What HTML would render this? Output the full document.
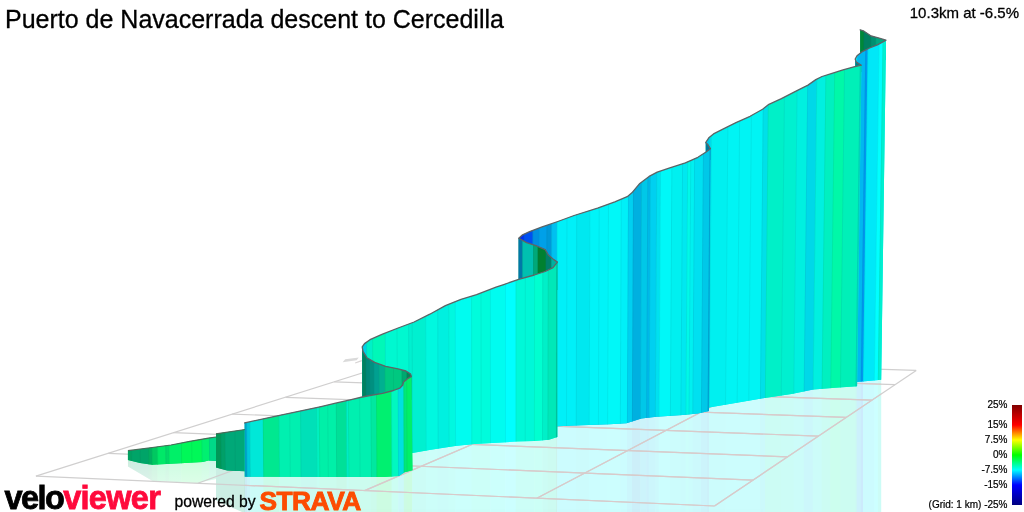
<!DOCTYPE html>
<html><head><meta charset="utf-8"><title>Puerto de Navacerrada descent to Cercedilla</title>
<style>
html,body{margin:0;padding:0;background:#fff;}
body{width:1024px;height:512px;position:relative;overflow:hidden;font-family:"Liberation Sans",Arial,sans-serif;color:#000;}
.t{position:absolute;white-space:nowrap;line-height:1;-webkit-text-stroke:0.3px #000;}
#title{left:5px;top:6.6px;font-size:25px;}
#stat{right:5px;top:5.2px;font-size:15px;}
.lg{-webkit-text-stroke:0.2px #000;position:absolute;right:16.5px;font-size:10px;line-height:10px;white-space:nowrap;text-align:right;}
#bar{position:absolute;left:1012px;top:405px;width:10px;height:100px;background:linear-gradient(to bottom,#800000 0%,#ff0000 20%,#ffff00 35%,#00ff00 50%,#00ffff 65%,#0000ff 80%,#000080 100%);}
#velo{position:absolute;left:4.5px;top:481.5px;font-size:32.5px;font-weight:bold;letter-spacing:-1.6px;line-height:1;white-space:nowrap;-webkit-text-stroke:0.8px currentColor;}
#velo span{color:#ff0a3c;letter-spacing:-0.7px;}
#pow{left:174.5px;top:493.5px;font-size:15.7px;}
#strava{position:absolute;left:259.5px;top:488px;font-size:26.3px;font-weight:bold;color:#fc4c02;line-height:1;letter-spacing:-0.5px;-webkit-text-stroke:0.9px #fc4c02;white-space:nowrap;transform-origin:0 0;}
</style></head><body>
<svg width="1024" height="512" viewBox="0 0 1024 512" style="position:absolute;left:0;top:0">
<clipPath id="crefl"><polygon points="244.6,476.8 384.0,476.9 399.0,476.0 404.6,472.2 412.5,470.3 412.5,452.9 430.9,449.7 455.2,445.9 474.0,444.0 496.5,442.8 515.2,441.6 534.0,440.9 549.0,439.8 557.4,437.1 557.4,426.2 581.5,425.2 609.6,424.2 626.5,423.3 632.1,421.4 641.5,418.6 656.5,416.8 682.8,414.9 697.8,413.4 709.0,411.1 709.0,407.4 736.8,402.7 763.0,398.3 791.5,394.0 813.4,389.6 835.2,387.8 857.1,386.3 857.1,381.9 881.2,379.8 881.2,512.0 244.6,512.0"/></clipPath>
<g clip-path="url(#crefl)" opacity="0.2">
<polygon points="244.6,380.0 247.6,380.0 247.6,512.0 244.6,512.0" fill="#00a0c8"/>
<polygon points="247.0,380.0 250.8,380.0 250.8,512.0 247.0,512.0" fill="#00c8dc"/>
<polygon points="250.2,380.0 264.0,380.0 264.0,512.0 250.2,512.0" fill="#00e8d8"/>
<polygon points="263.4,380.0 279.8,380.0 279.8,512.0 263.4,512.0" fill="#00e890"/>
<polygon points="279.2,380.0 301.4,380.0 301.4,512.0 279.2,512.0" fill="#00f0b0"/>
<polygon points="300.8,380.0 317.3,380.0 317.3,512.0 300.8,512.0" fill="#00e0b8"/>
<polygon points="316.7,380.0 320.1,380.0 320.1,512.0 316.7,512.0" fill="#00f0c0"/>
<polygon points="319.5,380.0 337.0,380.0 337.0,512.0 319.5,512.0" fill="#00f0a8"/>
<polygon points="336.4,380.0 347.3,380.0 347.3,512.0 336.4,512.0" fill="#00e098"/>
<polygon points="346.7,380.0 349.2,380.0 349.2,512.0 346.7,512.0" fill="#00f0c8"/>
<polygon points="348.6,380.0 371.6,380.0 371.6,512.0 348.6,512.0" fill="#00f0b0"/>
<polygon points="371.0,380.0 377.2,380.0 377.2,512.0 371.0,512.0" fill="#00e8a0"/>
<polygon points="376.6,380.0 392.2,380.0 392.2,512.0 376.6,512.0" fill="#00f070"/>
<polygon points="391.6,380.0 398.8,380.0 398.8,512.0 391.6,512.0" fill="#00f8c0"/>
<polygon points="398.2,380.0 404.4,380.0 404.4,512.0 398.2,512.0" fill="#00e0e0"/>
<polygon points="403.8,380.0 407.4,380.0 407.4,512.0 403.8,512.0" fill="#00e878"/>
<polygon points="406.8,380.0 412.8,380.0 412.8,512.0 406.8,512.0" fill="#00f068"/>
<polygon points="412.2,380.0 412.9,380.0 412.9,512.0 412.2,512.0" fill="#00f0d0"/>
<polygon points="412.3,380.0 426.5,380.0 426.5,512.0 412.3,512.0" fill="#00f0d0"/>
<polygon points="425.9,380.0 438.4,380.0 438.4,512.0 425.9,512.0" fill="#00f8e0"/>
<polygon points="437.8,380.0 449.4,380.0 449.4,512.0 437.8,512.0" fill="#00f0e0"/>
<polygon points="448.8,380.0 455.9,380.0 455.9,512.0 448.8,512.0" fill="#00f8e0"/>
<polygon points="455.3,380.0 472.1,380.0 472.1,512.0 455.3,512.0" fill="#00fcf0"/>
<polygon points="471.5,380.0 490.8,380.0 490.8,512.0 471.5,512.0" fill="#00fcdc"/>
<polygon points="490.2,380.0 505.8,380.0 505.8,512.0 490.2,512.0" fill="#00fcf0"/>
<polygon points="505.2,380.0 516.3,380.0 516.3,512.0 505.2,512.0" fill="#00ffff"/>
<polygon points="515.7,380.0 534.8,380.0 534.8,512.0 515.7,512.0" fill="#00f8d8"/>
<polygon points="534.2,380.0 542.8,380.0 542.8,512.0 534.2,512.0" fill="#00ffd0"/>
<polygon points="542.2,380.0 548.2,380.0 548.2,512.0 542.2,512.0" fill="#00f0c8"/>
<polygon points="547.6,380.0 556.6,380.0 556.6,512.0 547.6,512.0" fill="#00e8b8"/>
<polygon points="556.0,380.0 557.7,380.0 557.7,512.0 556.0,512.0" fill="#00c8a0"/>
<polygon points="557.1,380.0 576.5,380.0 576.5,512.0 557.1,512.0" fill="#00f0f8"/>
<polygon points="575.9,380.0 589.5,380.0 589.5,512.0 575.9,512.0" fill="#00e8f0"/>
<polygon points="588.9,380.0 608.0,380.0 608.0,512.0 588.9,512.0" fill="#00f4f8"/>
<polygon points="607.4,380.0 620.7,380.0 620.7,512.0 607.4,512.0" fill="#00f8f8"/>
<polygon points="620.1,380.0 627.6,380.0 627.6,512.0 620.1,512.0" fill="#00f0f8"/>
<polygon points="627.0,380.0 632.6,380.0 632.6,512.0 627.0,512.0" fill="#00d0f0"/>
<polygon points="632.0,380.0 640.7,380.0 640.7,512.0 632.0,512.0" fill="#00b0e0"/>
<polygon points="640.1,380.0 646.8,380.0 646.8,512.0 640.1,512.0" fill="#00c8e8"/>
<polygon points="646.2,380.0 649.4,380.0 649.4,512.0 646.2,512.0" fill="#00b8e8"/>
<polygon points="648.8,380.0 655.7,380.0 655.7,512.0 648.8,512.0" fill="#00d0f0"/>
<polygon points="655.1,380.0 659.4,380.0 659.4,512.0 655.1,512.0" fill="#00e0f0"/>
<polygon points="658.8,380.0 670.6,380.0 670.6,512.0 658.8,512.0" fill="#00f8f8"/>
<polygon points="670.0,380.0 681.2,380.0 681.2,512.0 670.0,512.0" fill="#00f0f0"/>
<polygon points="680.6,380.0 686.2,380.0 686.2,512.0 680.6,512.0" fill="#00e8f0"/>
<polygon points="685.6,380.0 689.3,380.0 689.3,512.0 685.6,512.0" fill="#00f8e8"/>
<polygon points="688.7,380.0 693.1,380.0 693.1,512.0 688.7,512.0" fill="#00f0f0"/>
<polygon points="692.5,380.0 701.6,380.0 701.6,512.0 692.5,512.0" fill="#00e0f0"/>
<polygon points="701.0,380.0 708.2,380.0 708.2,512.0 701.0,512.0" fill="#00c8e8"/>
<polygon points="707.6,380.0 709.3,380.0 709.3,512.0 707.6,512.0" fill="#00a8d8"/>
<polygon points="708.7,380.0 709.6,380.0 709.6,512.0 708.7,512.0" fill="#00dcf0"/>
<polygon points="709.0,380.0 725.9,380.0 725.9,512.0 709.0,512.0" fill="#00f0f0"/>
<polygon points="725.3,380.0 760.7,380.0 760.7,512.0 725.3,512.0" fill="#00f4f4"/>
<polygon points="760.1,380.0 765.7,380.0 765.7,512.0 760.1,512.0" fill="#00e0e8"/>
<polygon points="765.1,380.0 781.6,380.0 781.6,512.0 765.1,512.0" fill="#00f0c8"/>
<polygon points="781.0,380.0 794.1,380.0 794.1,512.0 781.0,512.0" fill="#00f0d0"/>
<polygon points="793.5,380.0 804.4,380.0 804.4,512.0 793.5,512.0" fill="#00f0e0"/>
<polygon points="803.8,380.0 813.4,380.0 813.4,512.0 803.8,512.0" fill="#00d8e8"/>
<polygon points="812.8,380.0 822.3,380.0 822.3,512.0 812.8,512.0" fill="#00f0e0"/>
<polygon points="821.7,380.0 830.9,380.0 830.9,512.0 821.7,512.0" fill="#00f0c0"/>
<polygon points="830.3,380.0 840.7,380.0 840.7,512.0 830.3,512.0" fill="#00f8a8"/>
<polygon points="840.1,380.0 856.1,380.0 856.1,512.0 840.1,512.0" fill="#00f0b8"/>
<polygon points="855.5,380.0 857.4,380.0 857.4,512.0 855.5,512.0" fill="#00d8c0"/>
<polygon points="856.8,380.0 861.5,380.0 861.5,512.0 856.8,512.0" fill="#00b8f0"/>
<polygon points="860.9,380.0 863.6,380.0 863.6,512.0 860.9,512.0" fill="#0098f0"/>
<polygon points="863.0,380.0 874.7,380.0 874.7,512.0 863.0,512.0" fill="#00e8f8"/>
<polygon points="874.1,380.0 878.5,380.0 878.5,512.0 874.1,512.0" fill="#00ffff"/>
<polygon points="877.9,380.0 882.3,380.0 882.3,512.0 877.9,512.0" fill="#00f0d0"/>
</g>
<polygon points="216.0,467.6 227.2,470.4 245.0,471.3 245.0,512.0 242.0,512.0 216.0,500.4" fill="#00a878" opacity="0.2"/>
<clipPath id="cra"><polygon points="127.9,460.0 140.0,463.0 152.2,464.8 180.4,463.2 202.9,461.9 208.5,460.6 216.0,461.0 216.0,479.0 197.0,483.0 152.2,480.7 127.9,466.6"/></clipPath>
<linearGradient id="gra" x1="0" y1="0" x2="0" y2="1"><stop offset="0" stop-color="#fff" stop-opacity="0"/><stop offset="1" stop-color="#fff" stop-opacity="0.35"/></linearGradient>
<g clip-path="url(#cra)"><g opacity="0.2">
<rect x="127.6" y="455" width="4.3" height="32" fill="#00a060"/>
<rect x="131.3" y="455" width="17.7" height="32" fill="#00a468"/>
<rect x="148.4" y="455" width="4.0" height="32" fill="#00b060"/>
<rect x="151.8" y="455" width="6.1" height="32" fill="#00c860"/>
<rect x="157.3" y="455" width="8.8" height="32" fill="#00e868"/>
<rect x="165.5" y="455" width="4.0" height="32" fill="#00d868"/>
<rect x="168.9" y="455" width="12.9" height="32" fill="#00f068"/>
<rect x="181.2" y="455" width="21.1" height="32" fill="#00f858"/>
<rect x="201.7" y="455" width="8.1" height="32" fill="#00f070"/>
<rect x="209.2" y="455" width="7.1" height="32" fill="#00d888"/>
</g><rect x="127" y="458" width="90" height="27" fill="url(#gra)"/>
</g>
<g stroke="#d0cfcf"><g id="grid" stroke-width="1.2" fill="none">
<line x1="35.9" y1="476.1" x2="420.0" y2="354.8"/>
<line x1="197.8" y1="483.2" x2="540.0" y2="358.6"/>
<line x1="364.6" y1="490.6" x2="662.6" y2="362.4"/>
<line x1="536.8" y1="498.2" x2="788.0" y2="366.4"/>
<line x1="714.5" y1="506.0" x2="916.2" y2="370.4"/>
<line x1="35.9" y1="476.1" x2="714.5" y2="506.0"/>
<line x1="108.2" y1="453.3" x2="753.0" y2="480.1"/>
<line x1="173.3" y1="432.7" x2="787.5" y2="456.9"/>
<line x1="232.1" y1="414.1" x2="818.4" y2="436.1"/>
<line x1="285.5" y1="397.3" x2="846.4" y2="417.3"/>
<line x1="334.3" y1="381.9" x2="871.8" y2="400.2"/>
<line x1="378.9" y1="367.8" x2="895.0" y2="384.7"/>
<line x1="420.0" y1="354.8" x2="916.2" y2="370.4"/>
</g></g>
<g stroke="#d9caca" clip-path="url(#crefl)"><g stroke-width="1.2" fill="none">
<line x1="35.9" y1="476.1" x2="420.0" y2="354.8"/>
<line x1="197.8" y1="483.2" x2="540.0" y2="358.6"/>
<line x1="364.6" y1="490.6" x2="662.6" y2="362.4"/>
<line x1="536.8" y1="498.2" x2="788.0" y2="366.4"/>
<line x1="714.5" y1="506.0" x2="916.2" y2="370.4"/>
<line x1="35.9" y1="476.1" x2="714.5" y2="506.0"/>
<line x1="108.2" y1="453.3" x2="753.0" y2="480.1"/>
<line x1="173.3" y1="432.7" x2="787.5" y2="456.9"/>
<line x1="232.1" y1="414.1" x2="818.4" y2="436.1"/>
<line x1="285.5" y1="397.3" x2="846.4" y2="417.3"/>
<line x1="334.3" y1="381.9" x2="871.8" y2="400.2"/>
<line x1="378.9" y1="367.8" x2="895.0" y2="384.7"/>
<line x1="420.0" y1="354.8" x2="916.2" y2="370.4"/>
</g></g>
<polygon points="342.6,362.3 345.2,359.2 358.8,357.4 356.6,360.3" fill="#dadada"/><line x1="355.2" y1="363" x2="361.8" y2="360.6" stroke="#d8d4d4" stroke-width="1.3"/>
<clipPath id="cb5"><polygon points="860.2,29.8 863.3,30.8 871.1,36.0 877.4,37.6 886.0,40.2 886.0,60.0 860.2,60.0"/></clipPath>
<polygon points="860.2,29.8 863.3,30.8 871.1,36.0 877.4,37.6 886.0,40.2 886.0,60.0 860.2,60.0" fill="#009070"/>
<g clip-path="url(#cb5)">
<polygon points="860.0,27.0 864.4,27.0 864.0,62.0 859.6,62.0" fill="#008838"/>
<polygon points="863.8,27.0 871.5,27.0 871.0,62.0 863.4,62.0" fill="#008060"/>
<polygon points="870.9,27.0 876.5,27.0 876.0,62.0 870.4,62.0" fill="#009070"/>
<polygon points="875.9,27.0 887.5,27.0 887.0,62.0 875.4,62.0" fill="#00a880"/>
<path d="M864.1,27L863.7,62 M871.2,27L870.7,62 M876.2,27L875.7,62" stroke="#004848" stroke-opacity="0.08" stroke-width="1" fill="none"/>
</g>
<clipPath id="cs5"><polygon points="855.2,70.0 855.2,59.0 857.0,55.8 861.8,51.9 869.6,48.0 877.4,44.9 886.0,40.2 881.2,379.8 857.1,381.9 855.2,382.0"/></clipPath>
<polygon points="855.2,70.0 855.2,59.0 857.0,55.8 861.8,51.9 869.6,48.0 877.4,44.9 886.0,40.2 881.2,379.8 857.1,381.9 855.2,382.0" fill="#00e8f8"/>
<g clip-path="url(#cs5)">
<polygon points="857.5,38.0 866.1,38.0 861.4,384.0 852.8,384.0" fill="#00b8f0"/>
<polygon points="865.5,38.0 868.3,38.0 863.6,384.0 860.8,384.0" fill="#0098f0"/>
<polygon points="867.7,38.0 879.5,38.0 874.6,384.0 863.0,384.0" fill="#00e8f8"/>
<polygon points="878.9,38.0 883.3,38.0 878.4,384.0 874.0,384.0" fill="#00ffff"/>
<polygon points="882.7,38.0 890.1,38.0 885.1,384.0 877.8,384.0" fill="#00f0d0"/>
<path d="M865.8,38L861.1,384 M868.0,38L863.3,384 M879.2,38L874.3,384 M883.0,38L878.1,384" stroke="#004848" stroke-opacity="0.08" stroke-width="1" fill="none"/>
</g>
<polygon points="861.4,65.2 856.3,62.1 855.2,59.0 855.2,72.0 861.4,72.0" fill="#008088"/>
<clipPath id="cs4"><polygon points="705.7,160.0 705.7,142.5 708.8,137.8 713.5,133.9 724.4,128.4 736.0,122.6 750.1,116.3 762.6,109.3 768.9,104.3 781.4,98.7 797.0,90.6 808.0,85.1 815.8,79.6 822.0,76.5 832.0,73.4 843.0,69.9 853.9,66.8 861.4,65.2 857.1,386.3 835.2,387.8 813.4,389.6 791.5,394.0 763.0,398.3 736.8,402.7 709.0,407.4 705.7,408.0"/></clipPath>
<polygon points="705.7,160.0 705.7,142.5 708.8,137.8 713.5,133.9 724.4,128.4 736.0,122.6 750.1,116.3 762.6,109.3 768.9,104.3 781.4,98.7 797.0,90.6 808.0,85.1 815.8,79.6 822.0,76.5 832.0,73.4 843.0,69.9 853.9,66.8 861.4,65.2 857.1,386.3 835.2,387.8 813.4,389.6 791.5,394.0 763.0,398.3 736.8,402.7 709.0,407.4 705.7,408.0" fill="#00f0e0"/>
<g clip-path="url(#cs4)">
<polygon points="706.7,63.0 710.1,63.0 707.4,410.0 704.0,410.0" fill="#00c8f0"/>
<polygon points="709.5,63.0 712.2,63.0 709.5,410.0 706.8,410.0" fill="#00dcf0"/>
<polygon points="711.6,63.0 728.7,63.0 725.8,410.0 708.9,410.0" fill="#00f0f0"/>
<polygon points="728.1,63.0 763.9,63.0 760.6,410.0 725.2,410.0" fill="#00f4f4"/>
<polygon points="763.3,63.0 769.0,63.0 765.5,410.0 760.0,410.0" fill="#00e0e8"/>
<polygon points="768.4,63.0 785.1,63.0 781.4,410.0 764.9,410.0" fill="#00f0c8"/>
<polygon points="784.5,63.0 797.7,63.0 793.9,410.0 780.8,410.0" fill="#00f0d0"/>
<polygon points="797.1,63.0 808.2,63.0 804.2,410.0 793.3,410.0" fill="#00f0e0"/>
<polygon points="807.6,63.0 817.3,63.0 813.2,410.0 803.6,410.0" fill="#00d8e8"/>
<polygon points="816.7,63.0 826.3,63.0 822.1,410.0 812.6,410.0" fill="#00f0e0"/>
<polygon points="825.7,63.0 835.1,63.0 830.8,410.0 821.5,410.0" fill="#00f0c0"/>
<polygon points="834.5,63.0 844.9,63.0 840.5,410.0 830.2,410.0" fill="#00f8a8"/>
<polygon points="844.3,63.0 860.5,63.0 855.9,410.0 839.9,410.0" fill="#00f0b8"/>
<polygon points="859.9,63.0 864.6,63.0 859.9,410.0 855.3,410.0" fill="#00d8c0"/>
<path d="M709.8,63L707.1,410 M711.9,63L709.2,410 M728.4,63L725.5,410 M740.1,63L737.1,410 M751.9,63L748.7,410 M763.6,63L760.3,410 M768.7,63L765.2,410 M784.8,63L781.1,410 M797.4,63L793.6,410 M807.9,63L803.9,410 M817.0,63L812.9,410 M826.0,63L821.8,410 M834.8,63L830.5,410 M844.6,63L840.2,410 M860.2,63L855.6,410" stroke="#004848" stroke-opacity="0.08" stroke-width="1" fill="none"/>
</g>
<polygon points="710.4,148.7 708.0,144.8 705.7,142.5 705.7,160.0 710.4,160.0" fill="#007898"/>
<clipPath id="cs3"><polygon points="518.7,290.0 518.7,238.3 522.6,234.8 529.6,231.6 542.1,226.9 557.8,221.5 574.1,215.5 597.6,208.1 614.8,201.9 627.2,196.7 631.9,192.8 639.8,183.4 649.1,176.4 657.2,172.2 669.8,167.9 685.4,162.8 697.9,157.3 705.7,152.3 710.4,148.7 709.0,411.1 697.8,413.4 682.8,414.9 656.5,416.8 641.5,418.6 632.1,421.4 626.5,423.3 609.6,424.2 581.5,425.2 557.4,426.2 518.7,427.0"/></clipPath>
<polygon points="518.7,290.0 518.7,238.3 522.6,234.8 529.6,231.6 542.1,226.9 557.8,221.5 574.1,215.5 597.6,208.1 614.8,201.9 627.2,196.7 631.9,192.8 639.8,183.4 649.1,176.4 657.2,172.2 669.8,167.9 685.4,162.8 697.9,157.3 705.7,152.3 710.4,148.7 709.0,411.1 697.8,413.4 682.8,414.9 656.5,416.8 641.5,418.6 632.1,421.4 626.5,423.3 609.6,424.2 581.5,425.2 557.4,426.2 518.7,427.0" fill="#00b0e0"/>
<g clip-path="url(#cs3)">
<polygon points="518.4,146.0 524.4,146.0 524.3,429.0 518.4,429.0" fill="#0030f0"/>
<polygon points="523.8,146.0 533.2,146.0 533.0,429.0 523.7,429.0" fill="#0050f0"/>
<polygon points="532.6,146.0 539.5,146.0 539.2,429.0 532.4,429.0" fill="#0090e0"/>
<polygon points="538.9,146.0 547.3,146.0 547.0,429.0 538.6,429.0" fill="#00a0e8"/>
<polygon points="546.7,146.0 552.1,146.0 551.6,429.0 546.4,429.0" fill="#0098d8"/>
<polygon points="551.5,146.0 557.6,146.0 557.1,429.0 551.0,429.0" fill="#00c0f0"/>
<polygon points="557.0,146.0 577.2,146.0 576.5,429.0 556.5,429.0" fill="#00f0f8"/>
<polygon points="576.6,146.0 590.4,146.0 589.5,429.0 575.9,429.0" fill="#00e8f0"/>
<polygon points="589.8,146.0 609.0,146.0 607.9,429.0 588.9,429.0" fill="#00f4f8"/>
<polygon points="608.4,146.0 621.8,146.0 620.6,429.0 607.3,429.0" fill="#00f8f8"/>
<polygon points="621.2,146.0 628.9,146.0 627.6,429.0 620.0,429.0" fill="#00f0f8"/>
<polygon points="628.3,146.0 633.9,146.0 632.6,429.0 627.0,429.0" fill="#00d0f0"/>
<polygon points="633.3,146.0 642.1,146.0 640.7,429.0 632.0,429.0" fill="#00b0e0"/>
<polygon points="641.5,146.0 648.3,146.0 646.8,429.0 640.1,429.0" fill="#00c8e8"/>
<polygon points="647.7,146.0 650.9,146.0 649.4,429.0 646.2,429.0" fill="#00b8e8"/>
<polygon points="650.3,146.0 657.2,146.0 655.6,429.0 648.8,429.0" fill="#00d0f0"/>
<polygon points="656.6,146.0 661.0,146.0 659.3,429.0 655.0,429.0" fill="#00e0f0"/>
<polygon points="660.4,146.0 672.3,146.0 670.6,429.0 658.7,429.0" fill="#00f8f8"/>
<polygon points="671.7,146.0 683.0,146.0 681.1,429.0 670.0,429.0" fill="#00f0f0"/>
<polygon points="682.4,146.0 688.1,146.0 686.1,429.0 680.5,429.0" fill="#00e8f0"/>
<polygon points="687.5,146.0 691.2,146.0 689.2,429.0 685.5,429.0" fill="#00f8e8"/>
<polygon points="690.6,146.0 695.0,146.0 693.0,429.0 688.6,429.0" fill="#00f0f0"/>
<polygon points="694.4,146.0 703.7,146.0 701.6,429.0 692.4,429.0" fill="#00e0f0"/>
<polygon points="703.1,146.0 710.3,146.0 708.1,429.0 701.0,429.0" fill="#00c8e8"/>
<polygon points="709.7,146.0 712.7,146.0 710.5,429.0 707.5,429.0" fill="#00a8d8"/>
<path d="M524.1,146L524.0,429 M532.9,146L532.7,429 M539.2,146L538.9,429 M547.0,146L546.7,429 M551.8,146L551.3,429 M557.3,146L556.8,429 M567.1,146L566.5,429 M576.9,146L576.2,429 M590.1,146L589.2,429 M599.4,146L598.4,429 M608.7,146L607.6,429 M621.5,146L620.3,429 M628.6,146L627.3,429 M633.6,146L632.3,429 M641.8,146L640.4,429 M648.0,146L646.5,429 M650.6,146L649.1,429 M656.9,146L655.3,429 M660.7,146L659.0,429 M672.0,146L670.3,429 M682.7,146L680.8,429 M687.8,146L685.8,429 M690.9,146L688.9,429 M694.7,146L692.7,429 M703.4,146L701.3,429 M710.0,146L707.8,429" stroke="#004848" stroke-opacity="0.08" stroke-width="1" fill="none"/>
</g>
<clipPath id="cb2"><polygon points="518.7,238.3 526.5,242.6 535.9,245.7 545.2,249.6 548.4,255.0 553.0,259.0 557.4,262.1 557.4,290.0 518.7,290.0"/></clipPath>
<polygon points="518.7,238.3 526.5,242.6 535.9,245.7 545.2,249.6 548.4,255.0 553.0,259.0 557.4,262.1 557.4,290.0 518.7,290.0" fill="#008030"/>
<g clip-path="url(#cb2)">
<polygon points="518.4,236.0 522.9,236.0 522.9,292.0 518.4,292.0" fill="#0078a8"/>
<polygon points="522.3,236.0 533.8,236.0 533.8,292.0 522.3,292.0" fill="#00c0b0"/>
<polygon points="533.2,236.0 538.3,236.0 538.3,292.0 533.2,292.0" fill="#00a878"/>
<polygon points="537.7,236.0 546.3,236.0 546.3,292.0 537.7,292.0" fill="#008030"/>
<polygon points="545.7,236.0 551.8,236.0 551.8,292.0 545.7,292.0" fill="#00806a"/>
<polygon points="551.2,236.0 558.3,236.0 558.2,292.0 551.2,292.0" fill="#00b0a0"/>
<path d="M522.6,236L522.6,292 M533.5,236L533.5,292 M538.0,236L538.0,292 M546.0,236L546.0,292 M551.5,236L551.5,292" stroke="#004848" stroke-opacity="0.08" stroke-width="1" fill="none"/>
</g>
<clipPath id="cs2"><polygon points="362.2,400.0 362.2,346.8 364.5,343.6 370.0,339.7 382.5,334.2 398.1,328.0 414.1,322.0 429.8,314.2 445.4,305.6 461.0,299.3 476.6,294.7 496.0,287.2 503.0,284.8 518.7,279.3 534.3,275.0 545.2,271.5 553.0,267.6 557.4,262.1 557.4,437.1 549.0,439.8 534.0,440.9 515.2,441.6 496.5,442.8 474.0,444.0 455.2,445.9 430.9,449.7 412.5,452.9 362.2,455.0"/></clipPath>
<polygon points="362.2,400.0 362.2,346.8 364.5,343.6 370.0,339.7 382.5,334.2 398.1,328.0 414.1,322.0 429.8,314.2 445.4,305.6 461.0,299.3 476.6,294.7 496.0,287.2 503.0,284.8 518.7,279.3 534.3,275.0 545.2,271.5 553.0,267.6 557.4,262.1 557.4,437.1 549.0,439.8 534.0,440.9 515.2,441.6 496.5,442.8 474.0,444.0 455.2,445.9 430.9,449.7 412.5,452.9 362.2,455.0" fill="#00fcf0"/>
<g clip-path="url(#cs2)">
<polygon points="361.1,260.0 366.5,260.0 367.6,457.0 362.2,457.0" fill="#00d0e8"/>
<polygon points="365.9,260.0 372.5,260.0 373.6,457.0 367.0,457.0" fill="#00f0c8"/>
<polygon points="371.9,260.0 385.2,260.0 386.2,457.0 373.0,457.0" fill="#00f8b8"/>
<polygon points="384.6,260.0 408.7,260.0 409.5,457.0 385.6,457.0" fill="#00f8d0"/>
<polygon points="408.1,260.0 412.2,260.0 412.9,457.0 408.9,457.0" fill="#00f0d0"/>
<polygon points="411.6,260.0 425.8,260.0 426.5,457.0 412.3,457.0" fill="#00f0d0"/>
<polygon points="425.2,260.0 437.9,260.0 438.5,457.0 425.9,457.0" fill="#00f8e0"/>
<polygon points="437.3,260.0 449.0,260.0 449.4,457.0 437.9,457.0" fill="#00f0e0"/>
<polygon points="448.4,260.0 455.5,260.0 455.9,457.0 448.8,457.0" fill="#00f8e0"/>
<polygon points="454.9,260.0 471.8,260.0 472.1,457.0 455.3,457.0" fill="#00fcf0"/>
<polygon points="471.2,260.0 490.7,260.0 490.8,457.0 471.5,457.0" fill="#00fcdc"/>
<polygon points="490.1,260.0 505.8,260.0 505.8,457.0 490.2,457.0" fill="#00fcf0"/>
<polygon points="505.2,260.0 516.3,260.0 516.3,457.0 505.2,457.0" fill="#00ffff"/>
<polygon points="515.7,260.0 534.9,260.0 534.7,457.0 515.7,457.0" fill="#00f8d8"/>
<polygon points="534.3,260.0 543.1,260.0 542.8,457.0 534.1,457.0" fill="#00ffd0"/>
<polygon points="542.5,260.0 548.5,260.0 548.2,457.0 542.2,457.0" fill="#00f0c8"/>
<polygon points="547.9,260.0 556.9,260.0 556.6,457.0 547.6,457.0" fill="#00e8b8"/>
<polygon points="556.3,260.0 558.6,260.0 558.2,457.0 556.0,457.0" fill="#00c8a0"/>
<path d="M366.2,260L367.3,457 M372.2,260L373.3,457 M384.9,260L385.9,457 M396.7,260L397.6,457 M408.4,260L409.2,457 M411.9,260L412.6,457 M425.5,260L426.2,457 M437.6,260L438.2,457 M448.7,260L449.1,457 M455.2,260L455.6,457 M471.5,260L471.8,457 M481.0,260L481.2,457 M490.4,260L490.5,457 M505.5,260L505.5,457 M516.0,260L516.0,457 M525.3,260L525.2,457 M534.6,260L534.4,457 M542.8,260L542.5,457 M548.2,260L547.9,457 M556.6,260L556.3,457" stroke="#004848" stroke-opacity="0.08" stroke-width="1" fill="none"/>
</g>
<clipPath id="cb1"><polygon points="362.2,346.8 363.0,351.4 366.9,357.7 374.7,362.4 385.6,366.3 398.1,368.9 405.9,371.0 410.6,374.1 411.4,376.4 411.4,400.0 362.2,400.0"/></clipPath>
<polygon points="362.2,346.8 363.0,351.4 366.9,357.7 374.7,362.4 385.6,366.3 398.1,368.9 405.9,371.0 410.6,374.1 411.4,376.4 411.4,400.0 362.2,400.0" fill="#00b090"/>
<g clip-path="url(#cb1)">
<polygon points="361.7,344.0 366.2,344.0 366.5,402.0 362.1,402.0" fill="#008060"/>
<polygon points="365.6,344.0 369.7,344.0 370.0,402.0 365.9,402.0" fill="#008878"/>
<polygon points="369.1,344.0 374.2,344.0 374.5,402.0 369.4,402.0" fill="#009080"/>
<polygon points="373.6,344.0 379.2,344.0 379.5,402.0 373.9,402.0" fill="#00a090"/>
<polygon points="378.6,344.0 385.2,344.0 385.5,402.0 378.9,402.0" fill="#00b090"/>
<polygon points="384.6,344.0 402.2,344.0 402.4,402.0 384.9,402.0" fill="#00c880"/>
<polygon points="401.6,344.0 407.2,344.0 407.4,402.0 401.8,402.0" fill="#00a870"/>
<polygon points="406.6,344.0 412.2,344.0 412.4,402.0 406.8,402.0" fill="#008858"/>
<path d="M365.9,344L366.2,402 M369.4,344L369.7,402 M373.9,344L374.2,402 M378.9,344L379.2,402 M384.9,344L385.2,402 M393.4,344L393.6,402 M401.9,344L402.1,402 M406.9,344L407.1,402" stroke="#004848" stroke-opacity="0.08" stroke-width="1" fill="none"/>
</g>
<clipPath id="csA"><polygon points="127.9,450.7 152.2,447.5 171.0,445.0 189.8,441.3 208.5,438.1 216.0,437.0 216.0,461.0 208.5,460.6 202.9,461.9 180.4,463.2 152.2,464.8 140.0,463.0 127.9,460.0"/></clipPath>
<polygon points="127.9,450.7 152.2,447.5 171.0,445.0 189.8,441.3 208.5,438.1 216.0,437.0 216.0,461.0 208.5,460.6 202.9,461.9 180.4,463.2 152.2,464.8 140.0,463.0 127.9,460.0" fill="#00d868"/>
<g clip-path="url(#csA)">
<polygon points="127.4,435.0 131.7,435.0 132.1,466.0 127.8,466.0" fill="#00a060"/>
<polygon points="131.1,435.0 148.8,435.0 149.2,466.0 131.5,466.0" fill="#00a468"/>
<polygon points="148.2,435.0 152.2,435.0 152.6,466.0 148.6,466.0" fill="#00b060"/>
<polygon points="151.6,435.0 157.7,435.0 158.1,466.0 152.0,466.0" fill="#00c860"/>
<polygon points="157.1,435.0 165.9,435.0 166.3,466.0 157.5,466.0" fill="#00e868"/>
<polygon points="165.3,435.0 169.3,435.0 169.7,466.0 165.7,466.0" fill="#00d868"/>
<polygon points="168.7,435.0 181.6,435.0 182.0,466.0 169.1,466.0" fill="#00f068"/>
<polygon points="181.0,435.0 202.1,435.0 202.5,466.0 181.4,466.0" fill="#00f858"/>
<polygon points="201.5,435.0 209.6,435.0 210.0,466.0 201.9,466.0" fill="#00f070"/>
<polygon points="209.0,435.0 216.1,435.0 216.5,466.0 209.4,466.0" fill="#00d888"/>
<path d="M131.4,435L131.8,466 M139.9,435L140.4,466 M148.5,435L148.9,466 M151.9,435L152.3,466 M157.4,435L157.8,466 M165.6,435L166.0,466 M169.0,435L169.4,466 M181.3,435L181.7,466 M191.6,435L192.0,466 M201.8,435L202.2,466 M209.3,435L209.7,466" stroke="#004848" stroke-opacity="0.08" stroke-width="1" fill="none"/>
</g>
<clipPath id="csB"><polygon points="216.0,433.8 245.0,429.5 245.0,471.3 227.2,470.4 216.0,467.6"/></clipPath>
<polygon points="216.0,433.8 245.0,429.5 245.0,471.3 227.2,470.4 216.0,467.6" fill="#00a068"/>
<g clip-path="url(#csB)">
<polygon points="215.4,427.0 221.2,427.0 221.8,473.0 216.0,473.0" fill="#009858"/>
<polygon points="220.6,427.0 225.3,427.0 225.9,473.0 221.2,473.0" fill="#00a068"/>
<polygon points="224.7,427.0 245.1,427.0 245.5,473.0 225.3,473.0" fill="#00a878"/>
<path d="M220.9,427L221.5,473 M225.0,427L225.6,473 M234.9,427L235.4,473" stroke="#004848" stroke-opacity="0.08" stroke-width="1" fill="none"/>
</g>
<clipPath id="cs1"><polygon points="244.6,422.9 282.0,414.8 320.0,406.8 335.6,403.2 351.2,399.7 362.2,397.0 370.0,395.5 382.5,393.3 393.4,390.5 399.7,388.2 402.8,385.0 403.6,381.9 407.5,378.8 411.4,376.4 412.5,470.3 404.6,472.2 399.0,476.0 384.0,476.9 244.6,476.8"/></clipPath>
<polygon points="244.6,422.9 282.0,414.8 320.0,406.8 335.6,403.2 351.2,399.7 362.2,397.0 370.0,395.5 382.5,393.3 393.4,390.5 399.7,388.2 402.8,385.0 403.6,381.9 407.5,378.8 411.4,376.4 412.5,470.3 404.6,472.2 399.0,476.0 384.0,476.9 244.6,476.8" fill="#00e098"/>
<g clip-path="url(#cs1)">
<polygon points="243.5,374.0 246.5,374.0 247.6,478.0 244.6,478.0" fill="#00a0c8"/>
<polygon points="245.9,374.0 249.7,374.0 250.8,478.0 247.0,478.0" fill="#00c8dc"/>
<polygon points="249.1,374.0 263.0,374.0 264.0,478.0 250.2,478.0" fill="#00e8d8"/>
<polygon points="262.4,374.0 278.9,374.0 279.9,478.0 263.4,478.0" fill="#00e890"/>
<polygon points="278.3,374.0 300.6,374.0 301.4,478.0 279.3,478.0" fill="#00f0b0"/>
<polygon points="300.0,374.0 316.5,374.0 317.3,478.0 300.8,478.0" fill="#00e0b8"/>
<polygon points="315.9,374.0 319.3,374.0 320.1,478.0 316.7,478.0" fill="#00f0c0"/>
<polygon points="318.7,374.0 336.3,374.0 337.0,478.0 319.5,478.0" fill="#00f0a8"/>
<polygon points="335.7,374.0 346.6,374.0 347.3,478.0 336.4,478.0" fill="#00e098"/>
<polygon points="346.0,374.0 348.5,374.0 349.2,478.0 346.7,478.0" fill="#00f0c8"/>
<polygon points="347.9,374.0 371.1,374.0 371.7,478.0 348.6,478.0" fill="#00f0b0"/>
<polygon points="370.5,374.0 376.7,374.0 377.2,478.0 371.1,478.0" fill="#00e8a0"/>
<polygon points="376.1,374.0 391.7,374.0 392.2,478.0 376.6,478.0" fill="#00f070"/>
<polygon points="391.1,374.0 398.4,374.0 398.8,478.0 391.6,478.0" fill="#00f8c0"/>
<polygon points="397.8,374.0 404.0,374.0 404.4,478.0 398.2,478.0" fill="#00e0e0"/>
<polygon points="403.4,374.0 407.0,374.0 407.4,478.0 403.8,478.0" fill="#00e878"/>
<polygon points="406.4,374.0 413.0,374.0 413.4,478.0 406.8,478.0" fill="#00f068"/>
<path d="M246.2,374L247.3,478 M249.4,374L250.5,478 M262.7,374L263.7,478 M278.6,374L279.6,478 M289.4,374L290.3,478 M300.3,374L301.1,478 M316.2,374L317.0,478 M319.0,374L319.8,478 M327.5,374L328.3,478 M336.0,374L336.7,478 M346.3,374L347.0,478 M348.2,374L348.9,478 M359.5,374L360.1,478 M370.8,374L371.4,478 M376.4,374L376.9,478 M391.4,374L391.9,478 M398.1,374L398.5,478 M403.7,374L404.1,478 M406.7,374L407.1,478" stroke="#004848" stroke-opacity="0.08" stroke-width="1" fill="none"/>
</g>
<polyline points="244.6,422.9 282.0,414.8 320.0,406.8 335.6,403.2 351.2,399.7 362.2,397.0 370.0,395.5 382.5,393.3 393.4,390.5 399.7,388.2 402.8,385.0 403.6,381.9 407.5,378.8 411.4,376.4 410.6,374.1 405.9,371.0 398.1,368.9 385.6,366.3 374.7,362.4 366.9,357.7 363.0,351.4 362.2,346.8 364.5,343.6 370.0,339.7 382.5,334.2 398.1,328.0 414.1,322.0 429.8,314.2 445.4,305.6 461.0,299.3 476.6,294.7 496.0,287.2 503.0,284.8 518.7,279.3 534.3,275.0 545.2,271.5 553.0,267.6 557.4,262.1 553.0,259.0 548.4,255.0 545.2,249.6 535.9,245.7 526.5,242.6 518.7,238.3 522.6,234.8 529.6,231.6 542.1,226.9 557.8,221.5 574.1,215.5 597.6,208.1 614.8,201.9 627.2,196.7 631.9,192.8 639.8,183.4 649.1,176.4 657.2,172.2 669.8,167.9 685.4,162.8 697.9,157.3 705.7,152.3 710.4,148.7 708.0,144.8 705.7,142.5 708.8,137.8 713.5,133.9 724.4,128.4 736.0,122.6 750.1,116.3 762.6,109.3 768.9,104.3 781.4,98.7 797.0,90.6 808.0,85.1 815.8,79.6 822.0,76.5 832.0,73.4 843.0,69.9 853.9,66.8 861.4,65.2 856.3,62.1 855.2,59.0 857.0,55.8 861.8,51.9 869.6,48.0 877.4,44.9 886.0,40.2 877.4,37.6 871.1,36.0 863.3,30.8 860.2,29.8" fill="none" stroke="#5e6466" stroke-width="1.3" stroke-linejoin="round" stroke-linecap="round"/>
<polyline points="127.9,450.7 152.2,447.5 171.0,445.0 189.8,441.3 208.5,438.1 216.0,437.0" fill="none" stroke="#4a6a58" stroke-width="1.2"/>
<polyline points="216.0,433.8 245.0,429.5" fill="none" stroke="#4a6a58" stroke-width="1.2"/>
</svg>
<div class="t" id="title">Puerto de Navacerrada descent to Cercedilla</div>
<div class="t" id="stat">10.3km at -6.5%</div>
<div id="bar"></div>
<div class="lg" style="top:400px">25%</div>
<div class="lg" style="top:420px">15%</div>
<div class="lg" style="top:435px">7.5%</div>
<div class="lg" style="top:450px">0%</div>
<div class="lg" style="top:465px">-7.5%</div>
<div class="lg" style="top:480px">-15%</div>
<div class="lg" style="top:500px">(Grid: 1 km) -25%</div>
<div id="velo">velo<span>viewer</span></div>
<div class="t" id="pow">powered by</div>
<div id="strava">STRAVA</div>
</body></html>
